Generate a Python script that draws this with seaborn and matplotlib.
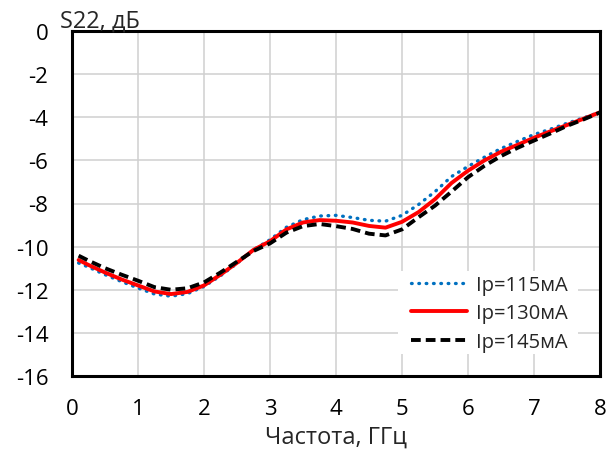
import matplotlib
matplotlib.use("Agg")
import matplotlib.pyplot as plt
from matplotlib.patches import Rectangle
import seaborn as sns
import pandas as pd

# Frequency grid, GHz
freq = [0.1, 0.25, 0.5, 0.75, 1.0, 1.25, 1.5, 1.75, 2.0, 2.25, 2.5, 2.75,
        3.0, 3.25, 3.5, 3.75, 4.0, 4.25, 4.5, 4.75, 5.0, 5.25, 5.5, 5.75,
        6.0, 6.25, 6.5, 6.75, 7.0, 7.25, 7.5, 7.75, 8.0]

# S22, dB for three drain currents
s22_115 = [-10.76, -10.95, -11.30, -11.62, -11.92, -12.20, -12.30, -12.18,
           -11.85, -11.35, -10.78, -10.15, -9.68, -9.10, -8.75, -8.58,
           -8.55, -8.65, -8.78, -8.82, -8.55, -8.05, -7.45, -6.75,
           -6.28, -5.85, -5.45, -5.12, -4.80, -4.55, -4.28, -4.03, -3.76]
s22_130 = [-10.62, -10.85, -11.20, -11.52, -11.80, -12.08, -12.20, -12.10,
           -11.80, -11.30, -10.75, -10.15, -9.75, -9.20, -8.88, -8.77,
           -8.80, -8.88, -9.04, -9.12, -8.85, -8.40, -7.80, -7.05,
           -6.48, -6.00, -5.60, -5.28, -4.95, -4.65, -4.36, -4.07, -3.77]
s22_145 = [-10.42, -10.65, -11.00, -11.30, -11.58, -11.88, -12.00, -11.93,
           -11.66, -11.20, -10.70, -10.20, -9.85, -9.35, -9.05, -8.95,
           -9.05, -9.18, -9.40, -9.48, -9.20, -8.64, -8.10, -7.45,
           -6.78, -6.25, -5.80, -5.42, -5.08, -4.75, -4.40, -4.10, -3.78]

labels = ["Ip=115мА", "Ip=130мА", "Ip=145мА"]
x_ticks = [0, 1, 2, 3, 4, 5, 6, 7, 8]
y_ticks = [0, -2, -4, -6, -8, -10, -12, -14, -16]

sns.set_style("white")
plt.rcParams["font.family"] = ["Open Sans", "DejaVu Sans"]
plt.rcParams["axes.unicode_minus"] = False

TICK_FS = 16
TITLE_FS = 17
LEG_FS = 14.5

W, H = 611, 456
fig = plt.figure(figsize=(W / 100, H / 100), dpi=100)
ax = fig.add_axes([72 / W, 1 - 377 / H, 528 / W, 345 / H])

df = pd.DataFrame({"f": freq, labels[0]: s22_115, labels[1]: s22_130,
                   labels[2]: s22_145})

styles = [
    dict(color="#0070C0", linewidth=2.4, linestyle=(0, (0.2, 2.0)),
         dash_capstyle="round"),
    dict(color="#FF0000", linewidth=2.8, linestyle="-"),
    dict(color="#000000", linewidth=2.8, linestyle=(0, (2.5, 1.3)),
         dash_capstyle="butt"),
]
for lab, st in zip(labels, styles):
    sns.lineplot(data=df, x="f", y=lab, ax=ax, label=lab, **st)

ax.set_xlim(0, 8)
ax.set_ylim(-16, 0)
ax.set_xticks(x_ticks)
ax.set_yticks(y_ticks)
ax.set_xticklabels([str(t) for t in x_ticks])
ax.set_yticklabels([str(t) for t in y_ticks])
ax.tick_params(axis="both", length=0, labelsize=TICK_FS, colors="black")
ax.tick_params(axis="y", pad=17)
ax.tick_params(axis="x", pad=16)
ax.grid(True, color="#D0D0D0", linewidth=1.1)
ax.set_axisbelow(True)
for sp in ax.spines.values():
    sp.set_visible(True)
    sp.set_color("black")
    sp.set_linewidth(2.2)

ax.set_xlabel("")
ax.set_ylabel("")
fig.text(336 / W, 1 - 444 / H, "Частота, ГГц", fontsize=TITLE_FS,
         ha="center", va="baseline")
fig.text(60 / W, 1 - 28 / H, "S22, дБ", fontsize=TITLE_FS, ha="left",
         va="baseline")

# white backing behind the legend block
ax.add_patch(Rectangle((398 / W, 1 - 355 / H), 180 / W, 83 / H,
                       transform=fig.transFigure, facecolor="white",
                       edgecolor="none", zorder=1))

leg = ax.legend(loc="upper left", bbox_to_anchor=(411 / W, 1 - 276 / H),
                bbox_transform=fig.transFigure, borderaxespad=0,
                borderpad=0, frameon=False, fontsize=LEG_FS,
                handlelength=2.8, handletextpad=0.45, labelspacing=0.42)

fig.savefig("out.png", dpi=100)
